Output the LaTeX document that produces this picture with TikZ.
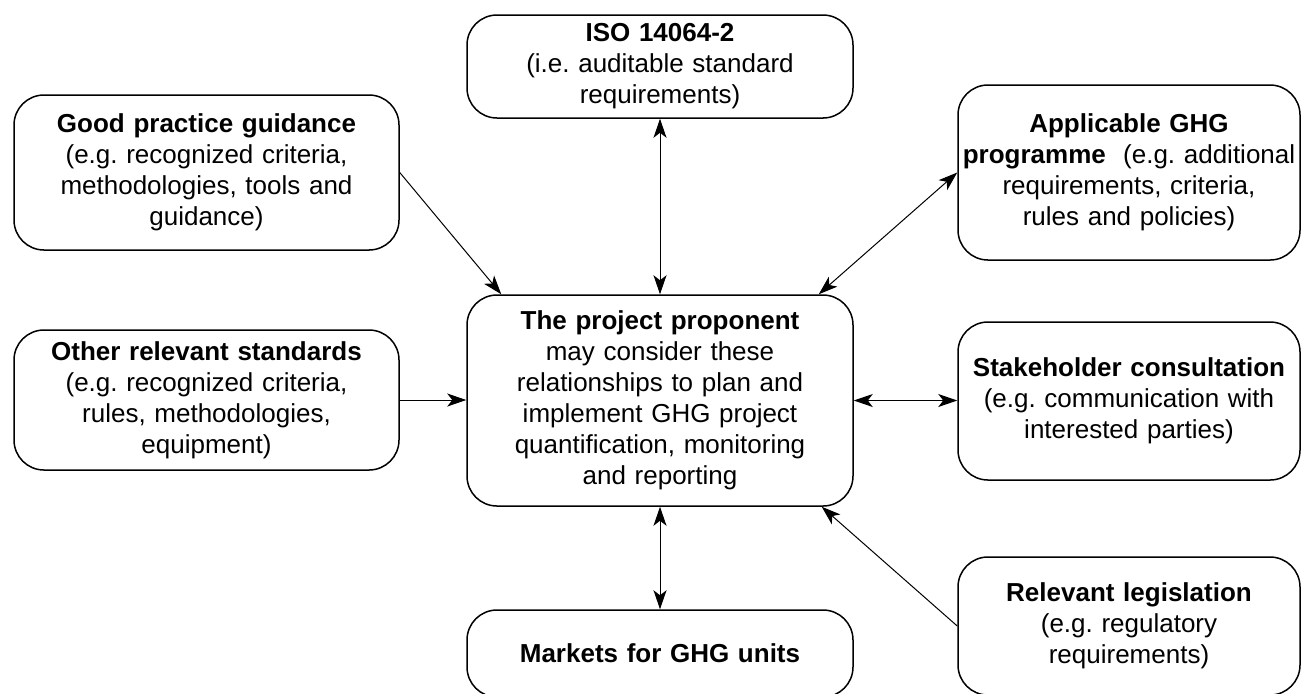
\documentclass[tikz,border=0pt]{standalone}
\usepackage{fontspec}
\setmainfont{Liberation Sans}
\usetikzlibrary{arrows.meta}
\frenchspacing
\begin{document}
\begin{tikzpicture}[x=0.5pt,y=-0.5pt,
		>={Stealth[length=9.5pt,width=6.5pt,inset=2.5pt]},
		box/.style={draw,line width=0.75pt,rounded corners=15pt,align=center,inner xsep=2pt,inner ysep=0pt,font=\fontsize{13}{15.5}\selectfont},
		wide/.style={box,text width=189pt},
		left/.style={box,text width=188.5pt},
		narrow/.style={box,text width=167pt},
		oneway/.style={line width=0.5pt,->},
		twoway/.style={line width=0.5pt,<->}]
		\useasboundingbox (0,0) rectangle (1301,693);
		\clip (0,0) rectangle (1301,693);
		\node[wide,minimum height=51.5pt] (iso) at (660,66.5) {\textbf{ISO 14064-2}\\(i.e. auditable standard\\requirements)};
		\node[left,minimum height=77.5pt] (good) at (206.5,172.5) {\textbf{Good practice guidance}\\(e.g. recognized criteria,\\methodologies, tools and\\guidance)};
		\node[narrow,minimum height=87.5pt] (appl) at (1129,172.5) {\textbf{Applicable GHG}\\\textbf{programme}\ \ (e.g. additional\\requirements, criteria,\\rules and policies)};
		\node[wide,minimum height=105.5pt] (prop) at (660,400.5) {\textbf{The project proponent}\\may consider these\\relationships to plan and\\implement GHG project\\quantification, monitoring\\and reporting};
		\node[left,minimum height=70pt] (other) at (206.5,400) {\textbf{Other relevant standards}\\(e.g. recognized criteria,\\rules, methodologies,\\equipment)};
		\node[narrow,minimum height=79pt] (stake) at (1129,401) {\textbf{Stakeholder consultation}\\(e.g. communication with\\interested parties)};
		\node[wide,minimum height=43.5pt] (mkt) at (660,653.5) {\textbf{Markets for GHG units}};
		\node[narrow,minimum height=69pt] (legis) at (1129,626) {\textbf{Relevant legislation}\\(e.g. regulatory\\requirements)};
		\draw[twoway] (iso) -- (prop);
		\draw[oneway] (good.east) -- ([xshift=17.5pt]prop.north west);
		\draw[twoway] ([xshift=-17.5pt]prop.north east) -- (appl.west);
		\draw[oneway] (other.east) -- (other.east -| prop.west);
		\draw[twoway] (prop.east) -- (prop.east -| stake.west);
		\draw[twoway] (prop) -- (mkt);
		\draw[oneway] (legis.west) -- ([xshift=-16pt]prop.south east);
	\end{tikzpicture}
\end{document}
